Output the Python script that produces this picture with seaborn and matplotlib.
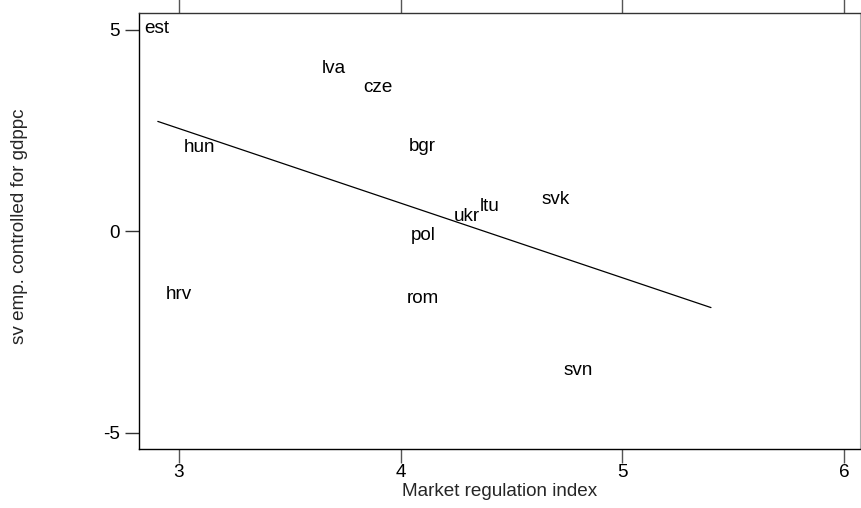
import numpy as np
import pandas as pd
import matplotlib
matplotlib.use("Agg")
import matplotlib.pyplot as plt
import seaborn as sns

# Country codes with market regulation index and residual self-employment
countries = ["est", "lva", "cze", "hun", "bgr", "svk", "ltu", "ukr", "pol", "rom", "svn", "hrv"]
reg_index = [2.90, 3.70, 3.90, 3.095, 4.10, 4.70, 4.40, 4.30, 4.10, 4.10, 4.80, 3.00]
sv_emp = [5.04, 4.04, 3.57, 2.08, 2.11, 0.79, 0.62, 0.37, -0.10, -1.66, -3.45, -1.56]

# Linear fit line (end points)
fit_x = [2.905, 5.40]
fit_y = [2.73, -1.89]

x_ticks = [3, 4, 5, 6]
y_ticks = [-5, 0, 5]

sns.set_theme(style="white")
plt.rcParams["font.family"] = ["Liberation Sans", "DejaVu Sans"]

df = pd.DataFrame({"country": countries, "reg": reg_index, "sv": sv_emp})
fit_df = pd.DataFrame({"reg": fit_x, "sv": fit_y})

FS = 13.6

fig = plt.figure(figsize=(8.61, 5.08), dpi=100)
ax = fig.add_axes([0.1614, 0.1161, 0.8374, 0.8583])

sns.lineplot(data=fit_df, x="reg", y="sv", color="black", linewidth=0.9, ax=ax)

for _, r in df.iterrows():
    ax.text(r["reg"], r["sv"], r["country"], ha="center", va="center",
            fontsize=FS, color="black")

ax.set_xlim(2.82, 6.072)
ax.set_ylim(-5.40, 5.42)
ax.set_xticks(x_ticks)
ax.set_yticks(y_ticks)
ax.set_xticklabels([str(t) for t in x_ticks], fontsize=FS)
ax.set_yticklabels([str(t) for t in y_ticks], fontsize=FS)

ax.tick_params(axis="x", which="both", bottom=True, top=True, direction="out",
               length=10, width=1, color="#555555", pad=1, labelcolor="black")
ax.tick_params(axis="y", which="both", left=True, direction="out",
               length=10, width=1, color="#333333", pad=4, labelcolor="black")

for side in ["left", "bottom"]:
    ax.spines[side].set_color("black")
    ax.spines[side].set_linewidth(1.0)
ax.spines["top"].set_color("#333333")
ax.spines["top"].set_linewidth(1.0)
ax.spines["right"].set_color("#aaaaaa")
ax.spines["right"].set_linewidth(0.8)
for s in ax.spines.values():
    s.set_visible(True)

ax.set_xlabel("Market regulation index", fontsize=FS, labelpad=1)
ax.set_ylabel("sv emp. controlled for gdppc", fontsize=FS)
# y label near the left edge of the figure
ax.yaxis.set_label_coords((28 - 139) / (0.8374 * 861), 0.51)

fig.savefig("out.png", dpi=100, facecolor="white")
